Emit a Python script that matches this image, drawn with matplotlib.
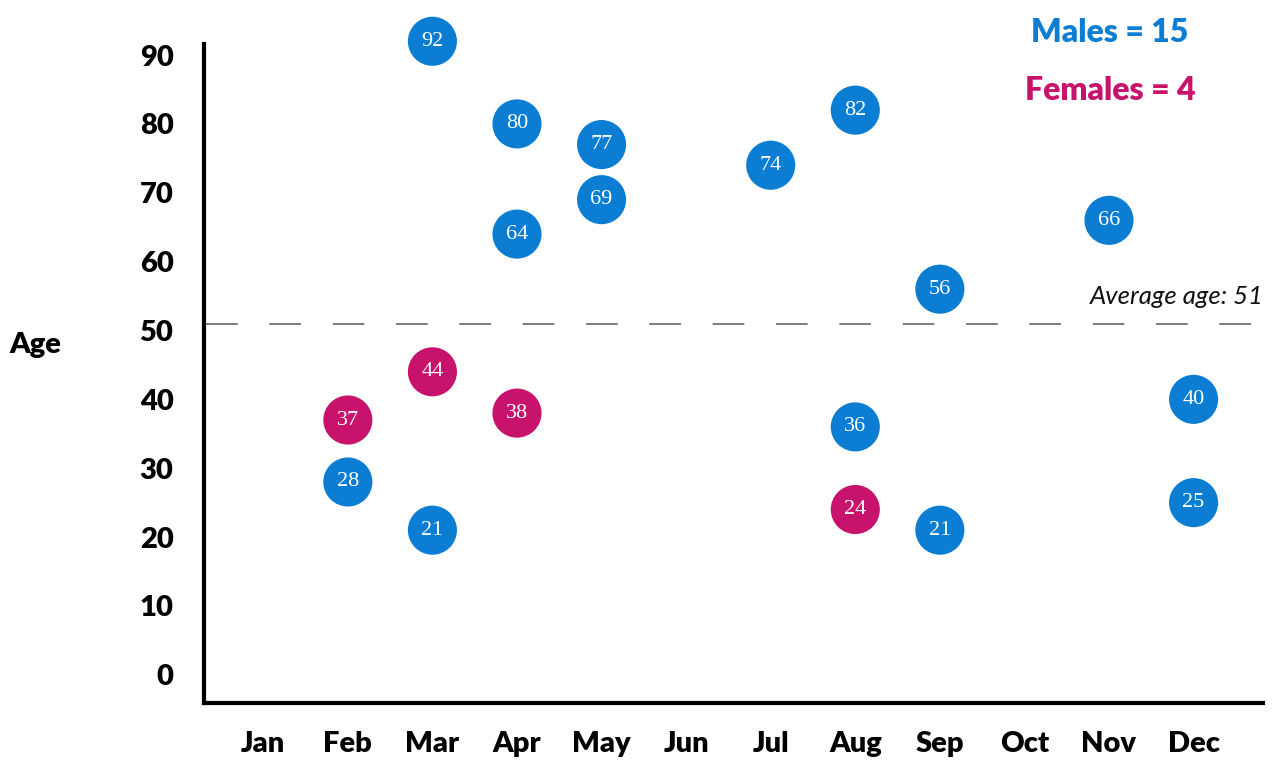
import matplotlib
matplotlib.use("Agg")
import matplotlib.pyplot as plt

months = ["Jan", "Feb", "Mar", "Apr", "May", "Jun", "Jul", "Aug", "Sep", "Oct", "Nov", "Dec"]
male_months = ["Feb", "Mar", "Mar", "Apr", "Apr", "May", "May", "Jul", "Aug", "Aug", "Sep", "Sep", "Nov", "Dec", "Dec"]
male_ages = [28, 92, 21, 80, 64, 77, 69, 74, 82, 36, 56, 21, 66, 40, 25]
female_months = ["Feb", "Mar", "Apr", "Aug"]
female_ages = [37, 44, 38, 24]
average_age = 51
y_ticks = [0, 10, 20, 30, 40, 50, 60, 70, 80, 90]

BLUE = "#0B7DD3"
MAGENTA = "#C7136B"
SANS = ["Lato", "DejaVu Sans"]
SERIF = ["Liberation Serif", "DejaVu Serif"]

fig = plt.figure(figsize=(12.81, 7.63), dpi=100)
ax = fig.add_axes([0.1593, 0.0786, 0.9859 - 0.1593, 0.9423 - 0.0786])

idx = {m: i for i, m in enumerate(months)}

def draw(mlist, ages, color, z):
    xs = [idx[m] for m in mlist]
    ax.scatter(xs, ages, s=1250, color=color, edgecolors="none", zorder=z, clip_on=False)
    for x, a in zip(xs, ages):
        ax.text(x, a, str(a), color="white", ha="center", va="center",
                fontsize=16, family=SERIF, zorder=z + 1, clip_on=False)

draw(male_months, male_ages, BLUE, 3)
draw(female_months, female_ages, MAGENTA, 5)

# average line
ax.plot([-0.68, 11.9], [average_age, average_age], color="#666666", lw=1.2,
        dashes=(19, 19), zorder=2, clip_on=False)
ax.text(11.83, average_age + 2.2, f"Average age: {average_age}", ha="right", va="bottom",
        fontsize=18.5, style="italic", family=SANS, color="#111111")

ax.set_xlim(-0.70, 11.82)
ax.set_ylim(-4.1, 91.6)
ax.set_xticks(range(len(months)))
ax.set_xticklabels(months)
ax.set_yticks(y_ticks)
ax.tick_params(axis="both", length=0, labelsize=21)
ax.tick_params(axis="y", pad=22)
ax.tick_params(axis="x", pad=20)
for lab in ax.get_xticklabels() + ax.get_yticklabels():
    lab.set_fontweight("heavy")
    lab.set_family(SANS)

for s in ["top", "right"]:
    ax.spines[s].set_visible(False)
for s in ["left", "bottom"]:
    ax.spines[s].set_linewidth(3)
    ax.spines[s].set_color("black")

fig.text(35 / 1281, 1 - 345 / 763, "Age", ha="center", va="center", fontsize=21,
         fontweight="heavy", family=SANS)

n_male = len(male_ages)
n_female = len(female_ages)
fig.text(1110 / 1281, 1 - 32 / 763, f"Males = {n_male}", ha="center", va="center",
         fontsize=23, fontweight="heavy", family=SANS, color=BLUE)
fig.text(1110 / 1281, 1 - 90 / 763, f"Females = {n_female}", ha="center", va="center",
         fontsize=23, fontweight="heavy", family=SANS, color=MAGENTA)

fig.savefig("out.png", dpi=100)
